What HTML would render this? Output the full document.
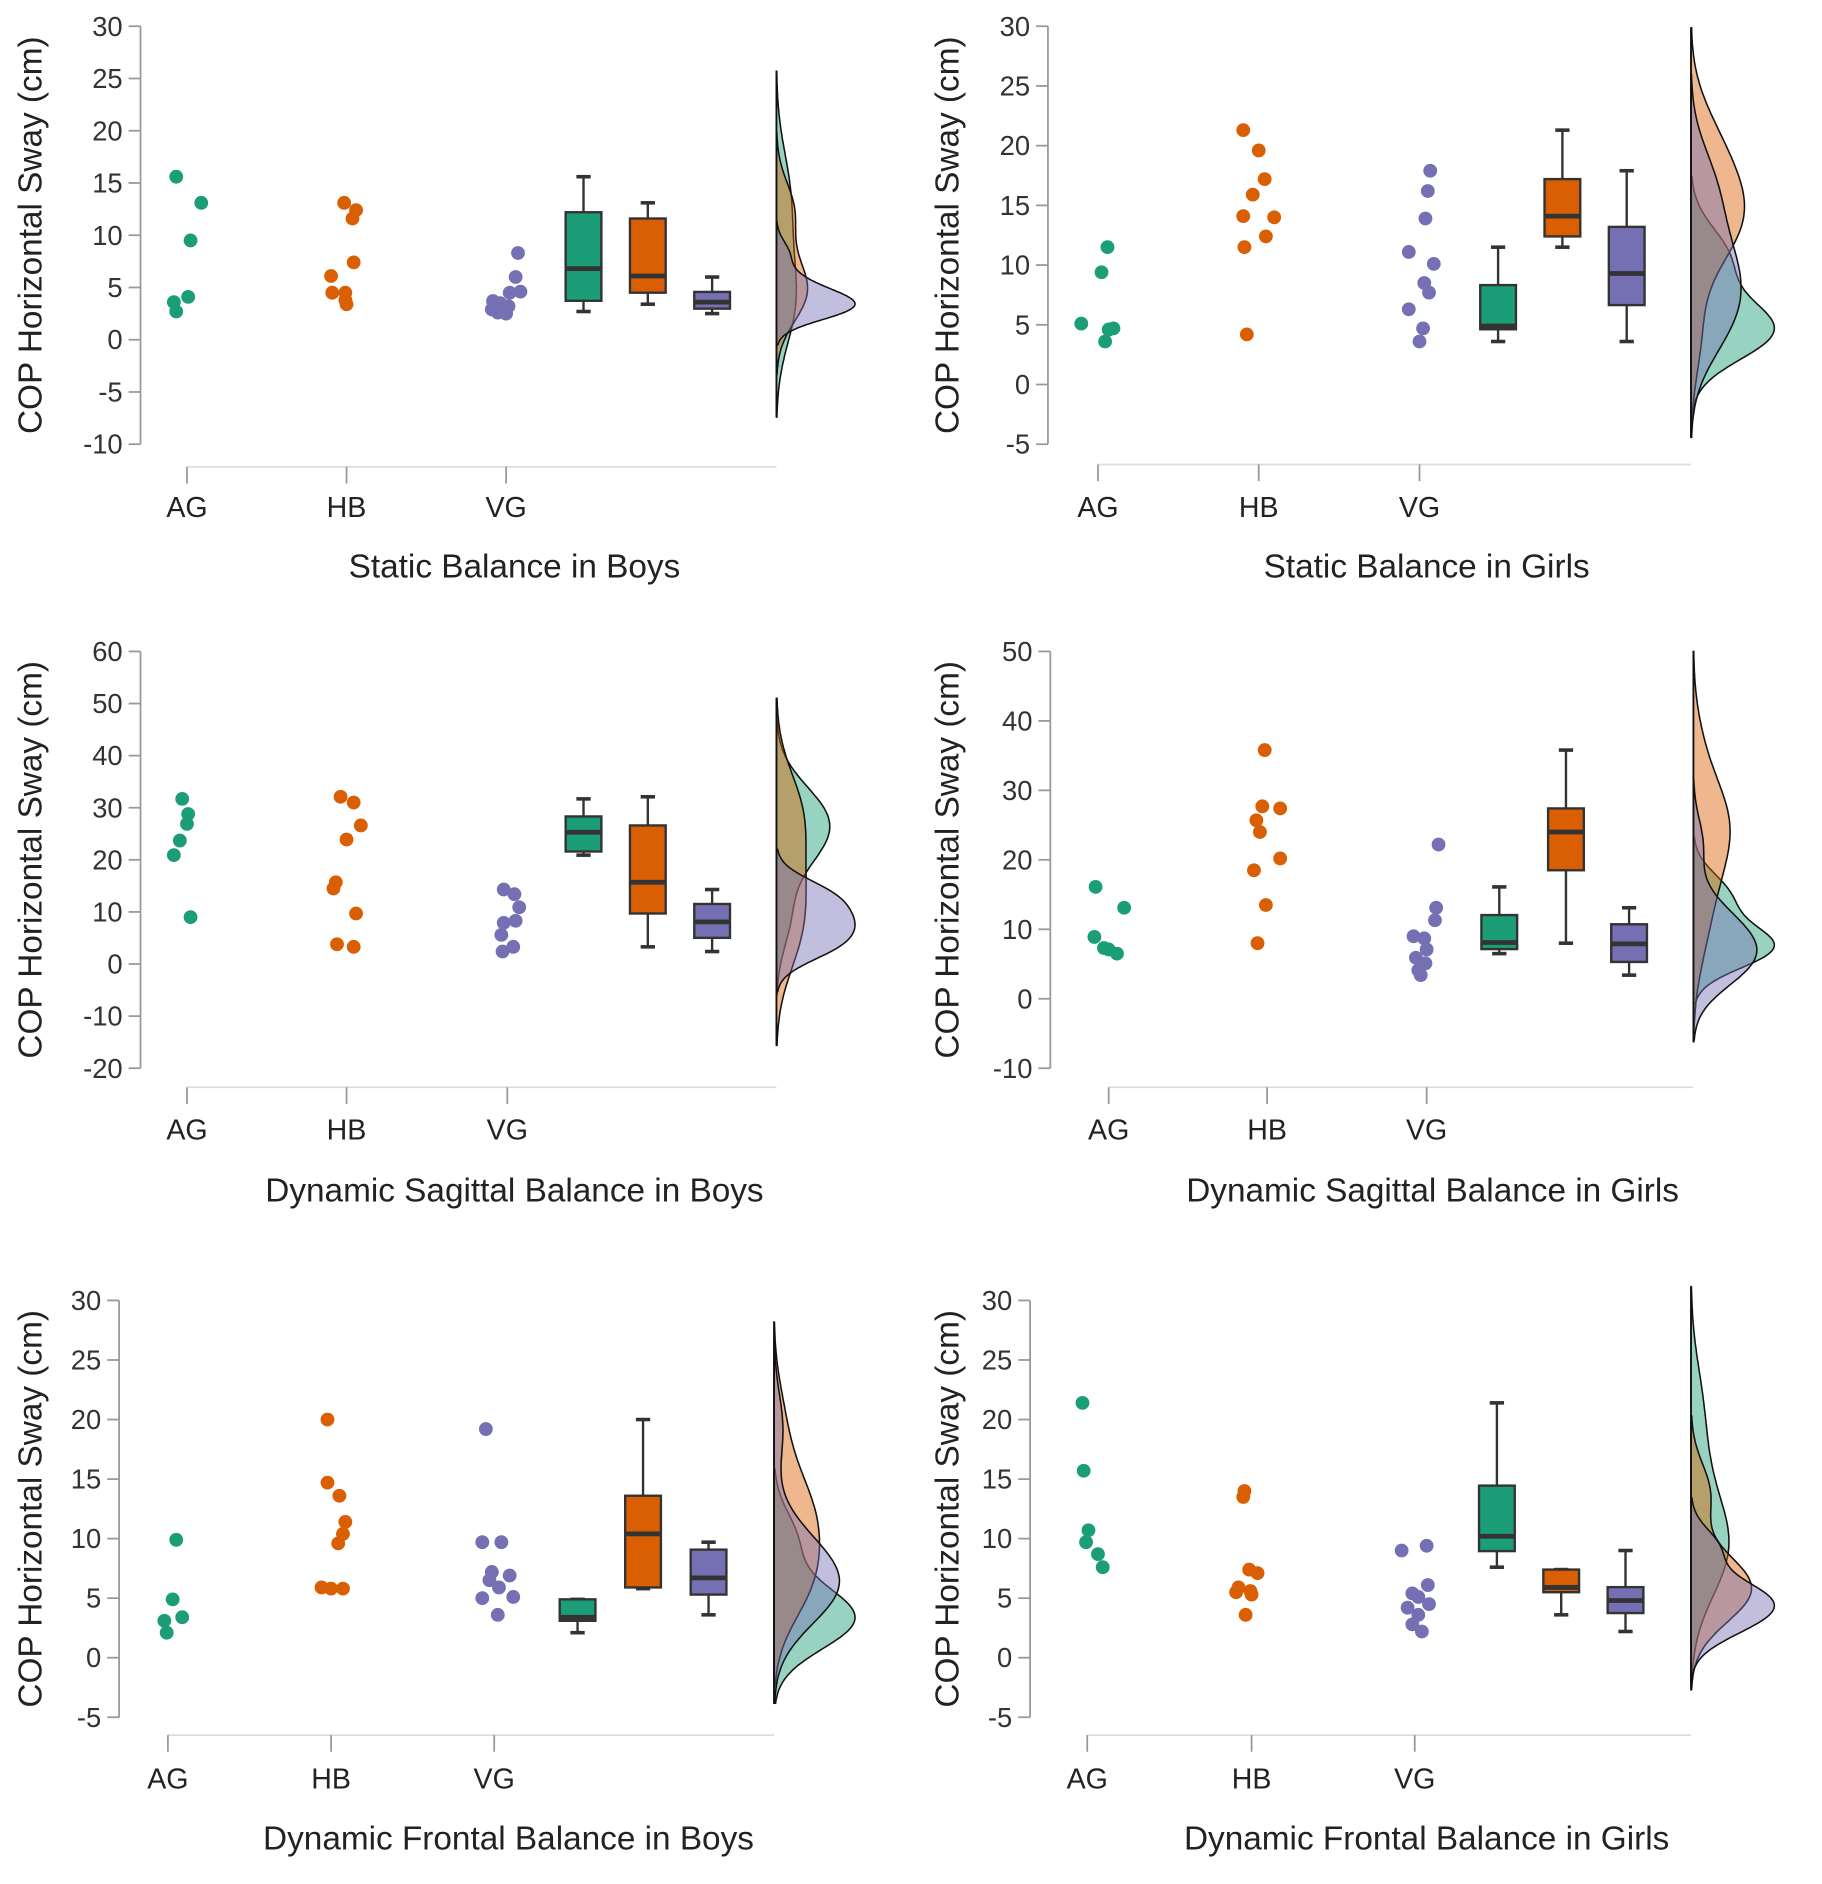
<!DOCTYPE html>
<html><head><meta charset="utf-8"><style>
html,body{margin:0;padding:0;background:#fff}
svg{display:block;font-family:"Liberation Sans",sans-serif}
</style></head><body>
<svg id="chart" width="1822" height="1884" viewBox="0 0 1530 1582" xmlns="http://www.w3.org/2000/svg"></svg>
<script>
// ---- data (COP horizontal sway, cm) ----
const categories = ["AG","HB","VG"];
const tlAG=[15.6,13.1,9.5,4.1,3.6,2.7];
const tlHB=[13.1,12.4,11.6,7.4,6.1,4.5,4.5,3.8,3.4];
const tlVG=[8.3,6.0,4.6,4.5,3.7,3.5,3.2,2.9,2.6,2.5];
const trAG=[11.5,9.4,5.1,4.7,4.6,3.6];
const trHB=[21.3,19.6,17.2,15.9,14.1,14.0,12.4,11.5,4.2];
const trVG=[17.9,16.2,13.9,11.1,10.1,8.5,7.7,6.3,4.7,3.6];
const mlAG=[31.7,28.8,26.9,23.7,20.9,9.0];
const mlHB=[32.1,31.0,26.6,23.9,15.7,14.5,9.7,3.8,3.3];
const mlVG=[14.3,13.4,10.9,7.9,8.3,5.6,3.3,2.4];
const mrAG=[16.1,13.1,8.9,7.3,7.1,6.5];
const mrHB=[35.8,27.7,27.4,25.7,24.0,20.2,18.5,13.5,8.0];
const mrVG=[22.2,13.1,11.3,9.0,8.7,7.1,5.9,5.1,4.1,3.4];
const blAG=[9.9,4.9,3.4,3.1,2.1];
const blHB=[20,14.7,13.6,11.4,10.4,9.6,5.9,5.8,5.8];
const blVG=[19.2,9.7,9.7,7.2,6.9,6.5,5.9,5.1,5.0,3.6];
const brAG=[21.4,15.7,10.7,9.7,8.7,7.6];
const brHB=[14.0,13.5,7.4,7.1,5.9,5.6,5.5,5.3,3.6];
const brVG=[9.0,9.4,6.1,5.4,5.1,4.5,4.2,3.6,2.8,2.2];
const tlTicks=[30,25,20,15,10,5,0,-5,-10];
const trTicks=[30,25,20,15,10,5,0,-5];
const mlTicks=[60,50,40,30,20,10,0,-10,-20];
const mrTicks=[50,40,30,20,10,0,-10];
const blTicks=[30,25,20,15,10,5,0,-5];
const brTicks=[30,25,20,15,10,5,0,-5];
const titles=["Static Balance in Boys","Static Balance in Girls","Dynamic Sagittal Balance in Boys","Dynamic Sagittal Balance in Girls","Dynamic Frontal Balance in Boys","Dynamic Frontal Balance in Girls"];

const colors=["#1b9e77","#d95f02","#7570b3"];
const NS="http://www.w3.org/2000/svg";
const svg=document.getElementById("chart");
function mk(tag,attrs,parent){const e=document.createElementNS(NS,tag);for(const k in attrs)e.setAttribute(k,attrs[k]);(parent||svg).appendChild(e);return e;}

const layout=[
 {id:"tl",groups:[tlAG,tlHB,tlVG],ticks:tlTicks,ax:118,yTop:22,yBot:373,cat:[157,291,425],box:[490,544,598],dens:652,ext:66,base:392,lab:425,tt:475,tc:432,yt:25,
  jit:[[-9,12,3,1,-11,-9],[-2,8,5,6,-13,-12,-1,-1,0],[10,8,12,3,-11,-5,2,-12,-7,0]]},
 {id:"tr",groups:[trAG,trHB,trVG],ticks:trTicks,ax:880,yTop:22,yBot:373,cat:[922,1057,1192],box:[1258,1312,1366],dens:1420,ext:70,base:390,lab:425,tt:475,tc:1198,yt:795,
  jit:[[8,3,-14,13,9,6],[-13,0,5,-5,-13,13,6,-12,-10],[9,7,5,-9,12,4,8,-9,3,0]]},
 {id:"ml",groups:[mlAG,mlHB,mlVG],ticks:mlTicks,ax:118,yTop:547,yBot:897,cat:[157,291,426],box:[490,544,598],dens:652,ext:66,base:913,lab:948,tt:999,tc:432,yt:25,
  jit:[[-4,1,0,-6,-11,3],[-5,6,12,0,-9,-11,8,-8,6],[-3,6,10,-3,7,-5,5,-4]]},
 {id:"mr",groups:[mrAG,mrHB,mrVG],ticks:mrTicks,ax:882,yTop:547,yBot:897,cat:[931,1064,1198],box:[1259,1315,1368],dens:1422,ext:68,base:913,lab:948,tt:999,tc:1203,yt:795,
  jit:[[-11,13,-12,-4,0,7],[-2,-4,11,-9,-6,11,-11,-1,-8],[10,8,7,-11,-2,0,-9,-1,-7,-5]]},
 {id:"bl",groups:[blAG,blHB,blVG],ticks:blTicks,ax:100,yTop:1092,yBot:1442,cat:[141,278,415],box:[485,540,595],dens:650,ext:68,base:1457,lab:1493,tt:1543,tc:427,yt:25,
  jit:[[7,4,12,-3,-1],[-3,-3,7,12,10,6,-8,0,10],[-7,-10,6,-2,13,-4,4,16,-10,3]]},
 {id:"br",groups:[brAG,brHB,brVG],ticks:brTicks,ax:865,yTop:1092,yBot:1442,cat:[913,1051,1188],box:[1257,1311,1365],dens:1420,ext:70,base:1457,lab:1493,tt:1543,tc:1198,yt:795,
  jit:[[-4,-3,1,-1,9,13],[-6,-7,-2,5,-11,-1,-13,0,-5],[-11,10,11,-2,3,12,-6,3,-2,6]]}
];

function quant(s,p){const h=(s.length-1)*p,l=Math.floor(h),u=Math.ceil(h);return s[l]+(s[u]-s[l])*(h-l);}

layout.forEach((P,pi)=>{
  const g=mk("g",{});
  
  
  const ymax=P.ticks[0],ymin=P.ticks[P.ticks.length-1];
  const Y=v=>P.yTop+(ymax-v)/(ymax-ymin)*(P.yBot-P.yTop);
  const ya=mk("line",{x1:P.ax,x2:P.ax,y1:Y(ymax),y2:Y(ymin),stroke:"#999","stroke-width":1.5},g);
  
  
  P.ticks.forEach(t=>{
    mk("line",{x1:P.ax-10,x2:P.ax,y1:Y(t),y2:Y(t),stroke:"#999","stroke-width":1.5},g);
    const tx=mk("text",{x:P.ax-15,y:Y(t)+8,"text-anchor":"end","font-size":23,fill:"#333"},g);
    tx.textContent=t;
    
    
  });
  const yt=mk("text",{x:0,y:0,transform:`translate(${P.yt+10},${(P.yTop+P.yBot)/2}) rotate(-90)`,"text-anchor":"middle","font-size":28,fill:"#222"},g);
  yt.textContent="COP Horizontal Sway (cm)";
  
  
  const xb=mk("line",{x1:P.cat[0],x2:P.dens,y1:P.base,y2:P.base,stroke:"#ddd","stroke-width":1.5},g);
  
  
  categories.forEach((c,i)=>{
    mk("line",{x1:P.cat[i],x2:P.cat[i],y1:P.base,y2:P.base+14,stroke:"#999","stroke-width":1.5},g);
    const t=mk("text",{x:P.cat[i],y:P.lab+9,"text-anchor":"middle","font-size":24,fill:"#222"},g);
    t.textContent=c;
    
    
  });
  const tt=mk("text",{x:P.tc,y:P.tt+10,"text-anchor":"middle","font-size":28,fill:"#222"},g);
  tt.textContent=titles[pi];
  
  
  P.groups.forEach((d,gi)=>{
    d.forEach((v,k)=>{
      const c=mk("circle",{cx:P.cat[gi]+(P.jit[gi][k]||0),cy:Y(v),r:5.8,fill:colors[gi]},g);
      
      
    });
    const s=[...d].sort((a,b)=>a-b);
    const q1=quant(s,0.25),q3=quant(s,0.75),md=quant(s,0.5),iqr=q3-q1;
    const lo=s.find(v=>v>=q1-1.5*iqr),hi=[...s].reverse().find(v=>v<=q3+1.5*iqr);
    const bx=P.box[gi],w=15;
    const bg=mk("g",{},g);
    
    
    mk("line",{x1:bx,x2:bx,y1:Y(hi),y2:Y(q3),stroke:"#333","stroke-width":2},bg);
    mk("line",{x1:bx,x2:bx,y1:Y(q1),y2:Y(lo),stroke:"#333","stroke-width":2},bg);
    mk("line",{x1:bx-6,x2:bx+6,y1:Y(hi),y2:Y(hi),stroke:"#333","stroke-width":3},bg);
    mk("line",{x1:bx-6,x2:bx+6,y1:Y(lo),y2:Y(lo),stroke:"#333","stroke-width":3},bg);
    mk("rect",{x:bx-w,y:Y(q3),width:2*w,height:Math.max(1,Y(q1)-Y(q3)),fill:colors[gi],stroke:"#333","stroke-width":2},bg);
    mk("line",{x1:bx-w,x2:bx+w,y1:Y(md),y2:Y(md),stroke:"#333","stroke-width":4},bg);
  });
  const curves=[];let gmax=0,vlo=1e9,vhi=-1e9;
  P.groups.forEach(d=>{
    const n=d.length,m=d.reduce((a,b)=>a+b,0)/n;
    const sd=Math.sqrt(d.reduce((a,b)=>a+(b-m)*(b-m),0)/(n-1));
    const bw=1.06*sd*Math.pow(n,-0.2);
    const a=Math.min(...d)-2.5*bw,b=Math.max(...d)+2.5*bw;
    vlo=Math.min(vlo,a);vhi=Math.max(vhi,b);
    const pts=[];
    for(let i=0;i<=120;i++){const v=a+(b-a)*i/120;let f=0;d.forEach(x=>{const z=(v-x)/bw;f+=Math.exp(-0.5*z*z);});f/=n*bw;pts.push([v,f]);gmax=Math.max(gmax,f);}
    curves.push(pts);
  });
  curves.forEach((pts,gi)=>{
    let dstr=`M${P.dens},${Y(pts[0][0])}`;
    pts.forEach(p=>{dstr+=` L${(P.dens+p[1]/gmax*P.ext).toFixed(1)},${Y(p[0]).toFixed(1)}`;});
    dstr+=` L${P.dens},${Y(pts[pts.length-1][0])} Z`;
    const pa=mk("path",{d:dstr,fill:colors[gi],"fill-opacity":0.45,stroke:"#111","stroke-width":1.3},g);
    
    
  });
  const dl=mk("line",{x1:P.dens,x2:P.dens,y1:Y(vhi),y2:Y(vlo),stroke:"#111","stroke-width":1.5},g);
  
  
});
</script>
</body></html>
